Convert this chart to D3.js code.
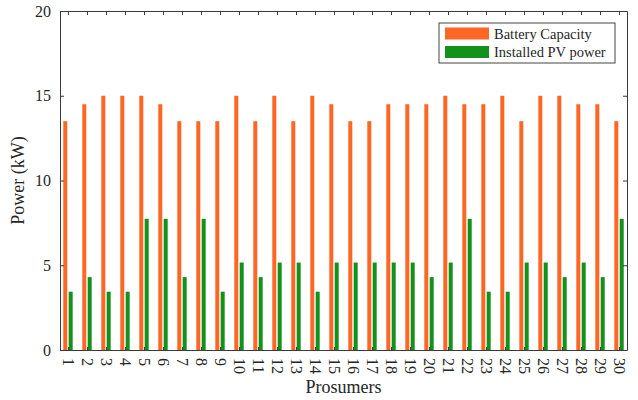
<!DOCTYPE html>
<html>
<head>
<meta charset="utf-8">
<script src="https://cdn.jsdelivr.net/npm/d3@7"></script>
<style>
  body { margin: 0; background: #fff; }
  text { font-family: "Liberation Serif", "DejaVu Serif", serif; fill: #262626; }
</style>
</head>
<body>
<div id="chart"></div>
<script>
// data
var prosumers = d3.range(1, 31);
var battery = [13.5, 14.5, 15, 15, 15, 14.5, 13.5, 13.5, 13.5, 15,
               13.5, 15, 13.5, 15, 14.5, 13.5, 13.5, 14.5, 14.5, 14.5,
               15, 14.5, 14.5, 15, 13.5, 15, 15, 14.5, 14.5, 13.5];
var pvPower = [3.44, 4.3, 3.44, 3.44, 7.74, 7.74, 4.3, 7.74, 3.44, 5.16,
               4.3, 5.16, 5.16, 3.44, 5.16, 5.16, 5.16, 5.16, 5.16, 4.3,
               5.16, 7.74, 3.44, 3.44, 5.16, 5.16, 4.3, 5.16, 4.3, 7.74];
var yTicks = [0, 5, 10, 15, 20];
var seriesNames = ["Battery Capacity", "Installed PV power"];
var seriesColors = ["#fd6725", "#13921b"];

var width = 638,
    height = 400,
    plotL = 60, plotR = 627, plotT = 11, plotB = 350; // "top" is taken by window

var svg = d3.select("#chart").append("svg")
    .attr("width", width)
    .attr("height", height);

var x = d3.scaleLinear().domain([0.58, 30.42]).range([plotL, plotR]);
var y = d3.scaleLinear().domain([0, 20]).range([plotB, plotT]);

var barW = 4;

// bars
var groups = svg.append("g").selectAll(".grp")
    .data(prosumers)
  .enter().append("g")
    .attr("class", "grp");

groups.append("rect")
    .attr("x", function(d){ return x(d) - 4.7; })
    .attr("y", function(d, i){ return y(battery[i]); })
    .attr("width", barW)
    .attr("height", function(d, i){ return y(0) - y(battery[i]); })
    .attr("fill", seriesColors[0]);

groups.append("rect")
    .attr("x", function(d){ return x(d) + 0.7; })
    .attr("y", function(d, i){ return y(pvPower[i]); })
    .attr("width", barW)
    .attr("height", function(d, i){ return y(0) - y(pvPower[i]); })
    .attr("fill", seriesColors[1]);

// axes (inward ticks, box all round)
var axisColor = "#3a3a3a";
function styleAxis(g){
    g.select(".domain").attr("stroke", axisColor).attr("stroke-width", 1);
    g.selectAll(".tick line").attr("stroke", axisColor);
    g.selectAll("text").attr("font-size", "16px").attr("fill", "#262626")
        .attr("font-family", "Liberation Serif, serif");
}

svg.append("g")
    .attr("transform", "translate(" + plotL + ",0)")
    .call(d3.axisLeft(y).tickValues(yTicks).tickSize(-4).tickSizeOuter(0).tickPadding(9))
    .call(styleAxis);

svg.append("g")
    .attr("transform", "translate(" + plotR + ",0)")
    .call(d3.axisRight(y).tickValues(yTicks).tickSize(-4).tickSizeOuter(0).tickFormat(""))
    .call(styleAxis);

var xAxis = svg.append("g")
    .attr("transform", "translate(0," + plotB + ")")
    .call(d3.axisBottom(x).tickValues(prosumers).tickSize(-3).tickSizeOuter(0).tickFormat(d3.format("d")))
    .call(styleAxis);

xAxis.selectAll("text")
    .attr("transform", "rotate(90)")
    .attr("x", 8)
    .attr("y", 0)
    .attr("dy", "0.33em")
    .attr("text-anchor", "start");

svg.append("g")
    .attr("transform", "translate(0," + plotT + ")")
    .call(d3.axisTop(x).tickValues(prosumers).tickSize(-4).tickSizeOuter(0).tickFormat(""))
    .call(styleAxis);

// axis titles
svg.append("text")
    .attr("x", (plotL + plotR) / 2)
    .attr("y", 393)
    .attr("text-anchor", "middle")
    .attr("font-size", "18px")
    .text("Prosumers");

svg.append("text")
    .attr("transform", "translate(24," + ((plotT + plotB) / 2) + ") rotate(-90)")
    .attr("text-anchor", "middle")
    .attr("font-size", "18px")
    .text("Power (kW)");

// legend
var legend = svg.append("g").attr("transform", "translate(439,23)");
legend.append("rect")
    .attr("width", 176)
    .attr("height", 40)
    .attr("fill", "#fff")
    .attr("stroke", "#444")
    .attr("stroke-width", 1);

var items = legend.selectAll(".item")
    .data(seriesNames)
  .enter().append("g")
    .attr("class", "item")
    .attr("transform", function(d, i){ return "translate(6," + (4.5 + i * 18.5) + ")"; });

items.append("rect")
    .attr("width", 44)
    .attr("height", 12)
    .attr("fill", function(d, i){ return seriesColors[i]; });

items.append("text")
    .attr("x", 49)
    .attr("y", 11)
    .attr("font-size", "14.5px")
    .text(function(d){ return d; });
</script>
</body>
</html>
